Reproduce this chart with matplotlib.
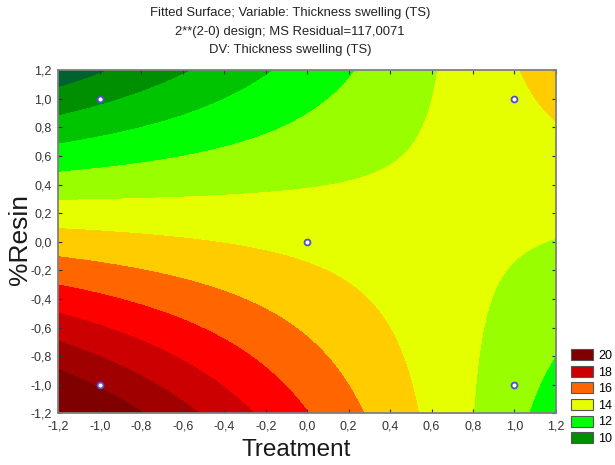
import numpy as np
import matplotlib
matplotlib.use('Agg')
import matplotlib.pyplot as plt
from matplotlib.patches import Patch
from matplotlib.ticker import FuncFormatter

# Design points (coded levels) and the mean thickness swelling
treatment = [-1, -1, 1, 1, 0]
resin = [-1, 1, -1, 1, 0]
ts = [19.9, 10.8, 13.4, 14.8, 14.7]

# Contour bands and their colours
levels = [0, 10, 11, 12, 13, 14, 15, 16, 17, 18, 19, 20, 40]
band_colors = ['#00622f', '#008f00', '#00c400', '#00ff00', '#99ff00', '#e6ff00',
               '#ffcc00', '#ff6600', '#ff0000', '#cc0000', '#a00000', '#800000']
legend_levels = [20, 18, 16, 14, 12, 10]
ticks = [-1.2, -1.0, -0.8, -0.6, -0.4, -0.2, 0.0, 0.2, 0.4, 0.6, 0.8, 1.0, 1.2]

title_lines = ["Fitted Surface; Variable: Thickness swelling (TS)",
               "2**(2-0) design; MS Residual=117,0071",
               "DV: Thickness swelling (TS)"]

plt.rcParams['font.family'] = ['Liberation Sans', 'DejaVu Sans']

# Fit TS = b0 + b1*x + b2*y + b12*x*y on the design points
x = np.array(treatment, float)
y = np.array(resin, float)
A = np.column_stack([np.ones_like(x), x, y, x * y])
coef = np.linalg.lstsq(A, np.array(ts, float), rcond=None)[0]

gx, gy = np.meshgrid(np.linspace(-1.2, 1.2, 400), np.linspace(-1.2, 1.2, 400))
gz = coef[0] + coef[1] * gx + coef[2] * gy + coef[3] * gx * gy

fig = plt.figure(figsize=(6.15, 4.65), dpi=100)
ax = fig.add_axes([0.095, 0.111, 0.809, 0.738])

ax.contourf(gx, gy, gz, levels=levels, colors=band_colors)
ax.scatter(treatment, resin, s=18, facecolor='white', edgecolor='#5050d0',
           linewidth=1.3, zorder=5)

ax.set_xlim(-1.2, 1.2)
ax.set_ylim(-1.2, 1.2)
ax.set_xticks(ticks)
ax.set_yticks(ticks)
fmt = FuncFormatter(lambda v, p: ('%.1f' % v).replace('.', ',').replace('-0,0', '0,0'))
ax.xaxis.set_major_formatter(fmt)
ax.yaxis.set_major_formatter(fmt)
ax.tick_params(direction='in', length=3, width=0.8, top=True, right=True,
               color='#333333', labelcolor='#333333', labelsize=9, pad=5)
for s in ax.spines.values():
    s.set_color('#808080')
    s.set_linewidth(1.3)

ax.set_xlabel('Treatment', fontsize=17.5, color='#1a1a1a')
ax.set_ylabel('%Resin', fontsize=19, color='#1a1a1a')
ax.xaxis.set_label_coords(0.477, -0.075)
ax.yaxis.set_label_coords(-0.053, 0.506)

for i, line in enumerate(title_lines):
    fig.text(290 / 615, 1 - (13 + 18.5 * i) / 465, line, ha='center', va='center',
             fontsize=9.4, color='#222222')

handles = [Patch(facecolor=band_colors[levels.index(l)], edgecolor='#555555', linewidth=0.8)
           for l in legend_levels]
fig.legend(handles, [str(l) for l in legend_levels], loc='upper left',
           bbox_to_anchor=(571 / 615, 1 - 349 / 465), frameon=False, fontsize=9,
           handlelength=1.75, handleheight=1.0, labelspacing=0.3, handletextpad=0.45,
           borderaxespad=0, borderpad=0)

fig.savefig('out.png', dpi=100)
